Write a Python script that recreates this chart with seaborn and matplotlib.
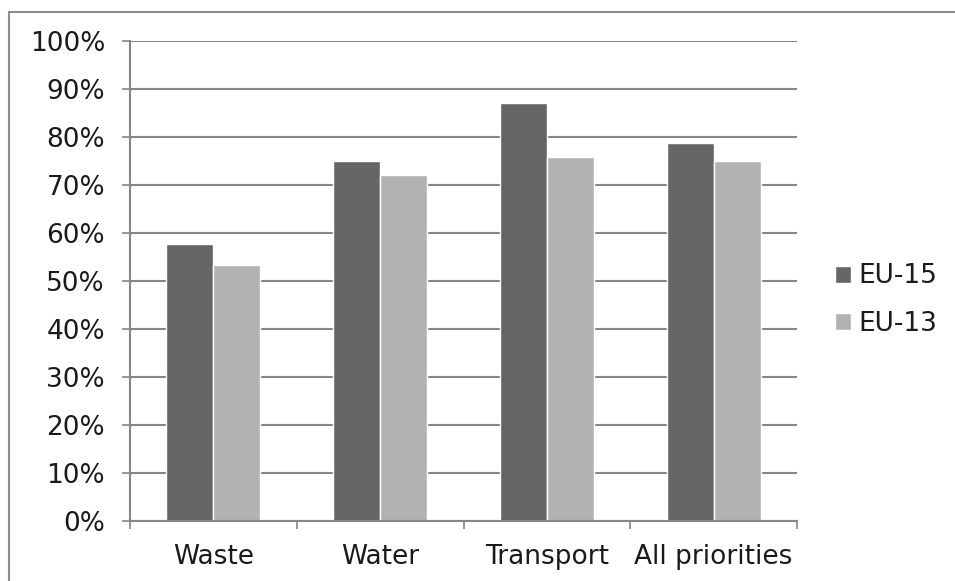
import matplotlib
matplotlib.use("Agg")
import matplotlib.pyplot as plt
from matplotlib.patches import Rectangle
from matplotlib.ticker import FixedLocator, PercentFormatter
import seaborn as sns
import pandas as pd

# Share of funds by priority area
categories = ["Waste", "Water", "Transport", "All priorities"]
groups = ["EU-15", "EU-13"]
eu15 = [57.6, 74.9, 87.0, 78.7]
eu13 = [53.3, 72.0, 75.8, 74.9]
y_ticks = list(range(0, 101, 10))

df = pd.DataFrame({
    "category": categories * 2,
    "group": [groups[0]] * len(categories) + [groups[1]] * len(categories),
    "value": eu15 + eu13,
})

sns.set_theme(style="white")
plt.rcParams["font.family"] = ["DejaVu Sans"]
plt.rcParams["text.color"] = "#1a1a1a"

W, H = 955, 581
FS = 19
fig = plt.figure(figsize=(W / 100, H / 100), dpi=100)
ax = fig.add_axes([130 / W, 1 - 520.7 / H, (797 - 130) / W, (520.7 - 40.7) / H])

grid_c = "#868686"
sns.barplot(data=df, x="category", y="value", hue="group", order=categories,
            hue_order=groups, palette=["#666666", "#b2b2b2"], width=0.565,
            gap=0, saturation=1, ax=ax, zorder=3)

ax.set_ylim(0, 100)
ax.set_xlim(-0.5, len(categories) - 0.5)
ax.yaxis.set_major_locator(FixedLocator(y_ticks))
ax.yaxis.set_major_formatter(PercentFormatter(decimals=0))
ax.grid(axis="y", color=grid_c, linewidth=1.5, zorder=0)
ax.set_axisbelow(True)
ax.set_xlabel("")
ax.set_ylabel("")

for side in ["top", "right"]:
    ax.spines[side].set_visible(False)
for side in ["left", "bottom"]:
    ax.spines[side].set_color(grid_c)
    ax.spines[side].set_linewidth(1.5)
    ax.spines[side].set_zorder(4)

ax.tick_params(axis="y", which="major", left=True, length=6, width=1.2,
               color=grid_c, labelsize=FS, pad=12, labelcolor="#1a1a1a")
ax.tick_params(axis="x", which="major", bottom=False, labelsize=FS,
               pad=11, labelcolor="#1a1a1a")
ax.xaxis.set_minor_locator(FixedLocator([i - 0.5 for i in range(len(categories) + 1)]))
ax.tick_params(axis="x", which="minor", bottom=True, length=6, width=1.2,
               color=grid_c)

handles, labels = ax.get_legend_handles_labels()
ax.legend(handles, labels, loc="center left",
          bbox_to_anchor=(835 / W, 1 - 300 / H),
          bbox_transform=fig.transFigure, frameon=False, fontsize=FS,
          handlelength=0.6, handleheight=0.6, handletextpad=0.3,
          labelspacing=0.8, borderpad=0, borderaxespad=0)

# outer chart frame
fig.patches.append(Rectangle((8.5 / W, -0.05), 1.2, 1 - 12 / H + 0.05,
                             transform=fig.transFigure, fill=False,
                             edgecolor="#8c8c8c", linewidth=1.5))

fig.savefig("out.png", dpi=100)
